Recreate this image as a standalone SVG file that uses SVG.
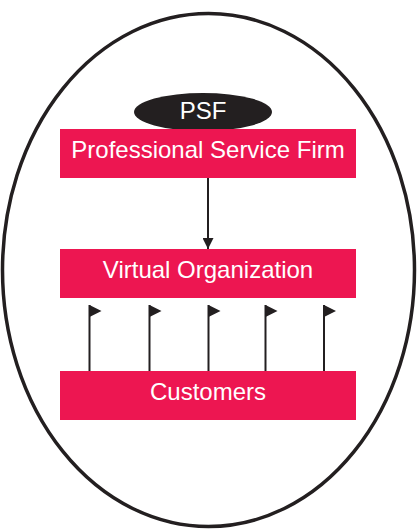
<svg xmlns="http://www.w3.org/2000/svg" width="417" height="529" viewBox="0 0 417 529">
<style>
.box{fill:#ED1651}
.lbl{fill:#fff;font-family:"Liberation Sans",Arial,sans-serif;font-size:24px;text-anchor:middle}
.ln{stroke:#231F20;stroke-width:2;fill:none}
.flag{fill:#231F20}
</style>
<defs>
<marker id="ah" viewBox="0 0 10 10" refX="10" refY="5" markerWidth="11" markerHeight="11" markerUnits="userSpaceOnUse" orient="auto"><path d="M0,0L10,5L0,10z" fill="#231F20"/></marker>
</defs>
<ellipse cx="208.5" cy="270" rx="206" ry="256.5" fill="#fff" stroke="#231F20" stroke-width="3.5"/>
<g id="connectors">
<line class="ln" x1="208" y1="178" x2="208" y2="249" marker-end="url(#ah)"/>
<g id="flags">
<line class="ln" x1="89.5" y1="305" x2="89.5" y2="371"/><path class="flag" d="M89.5,305L101.5,311L89.5,317z"/>
<line class="ln" x1="149.5" y1="305" x2="149.5" y2="371"/><path class="flag" d="M149.5,305L161.5,311L149.5,317z"/>
<line class="ln" x1="208.5" y1="305" x2="208.5" y2="371"/><path class="flag" d="M208.5,305L220.5,311L208.5,317z"/>
<line class="ln" x1="265.5" y1="305" x2="265.5" y2="371"/><path class="flag" d="M265.5,305L277.5,311L265.5,317z"/>
<line class="ln" x1="324" y1="305" x2="324" y2="371"/><path class="flag" d="M324,305L336,311L324,317z"/>
</g>
</g>
<g id="psf">
<ellipse cx="203" cy="112" rx="69" ry="19" fill="#231F20"/>
<text class="lbl" x="203" y="119">PSF</text>
</g>
<g id="firm">
<rect class="box" x="60" y="129" width="296" height="49"/>
<text class="lbl" x="208" y="158">Professional Service Firm</text>
</g>
<g id="vo">
<rect class="box" x="60" y="249" width="296" height="49"/>
<text class="lbl" x="208" y="278">Virtual Organization</text>
</g>
<g id="customers">
<rect class="box" x="60" y="371" width="296" height="49"/>
<text class="lbl" x="208" y="400">Customers</text>
</g>
</svg>
